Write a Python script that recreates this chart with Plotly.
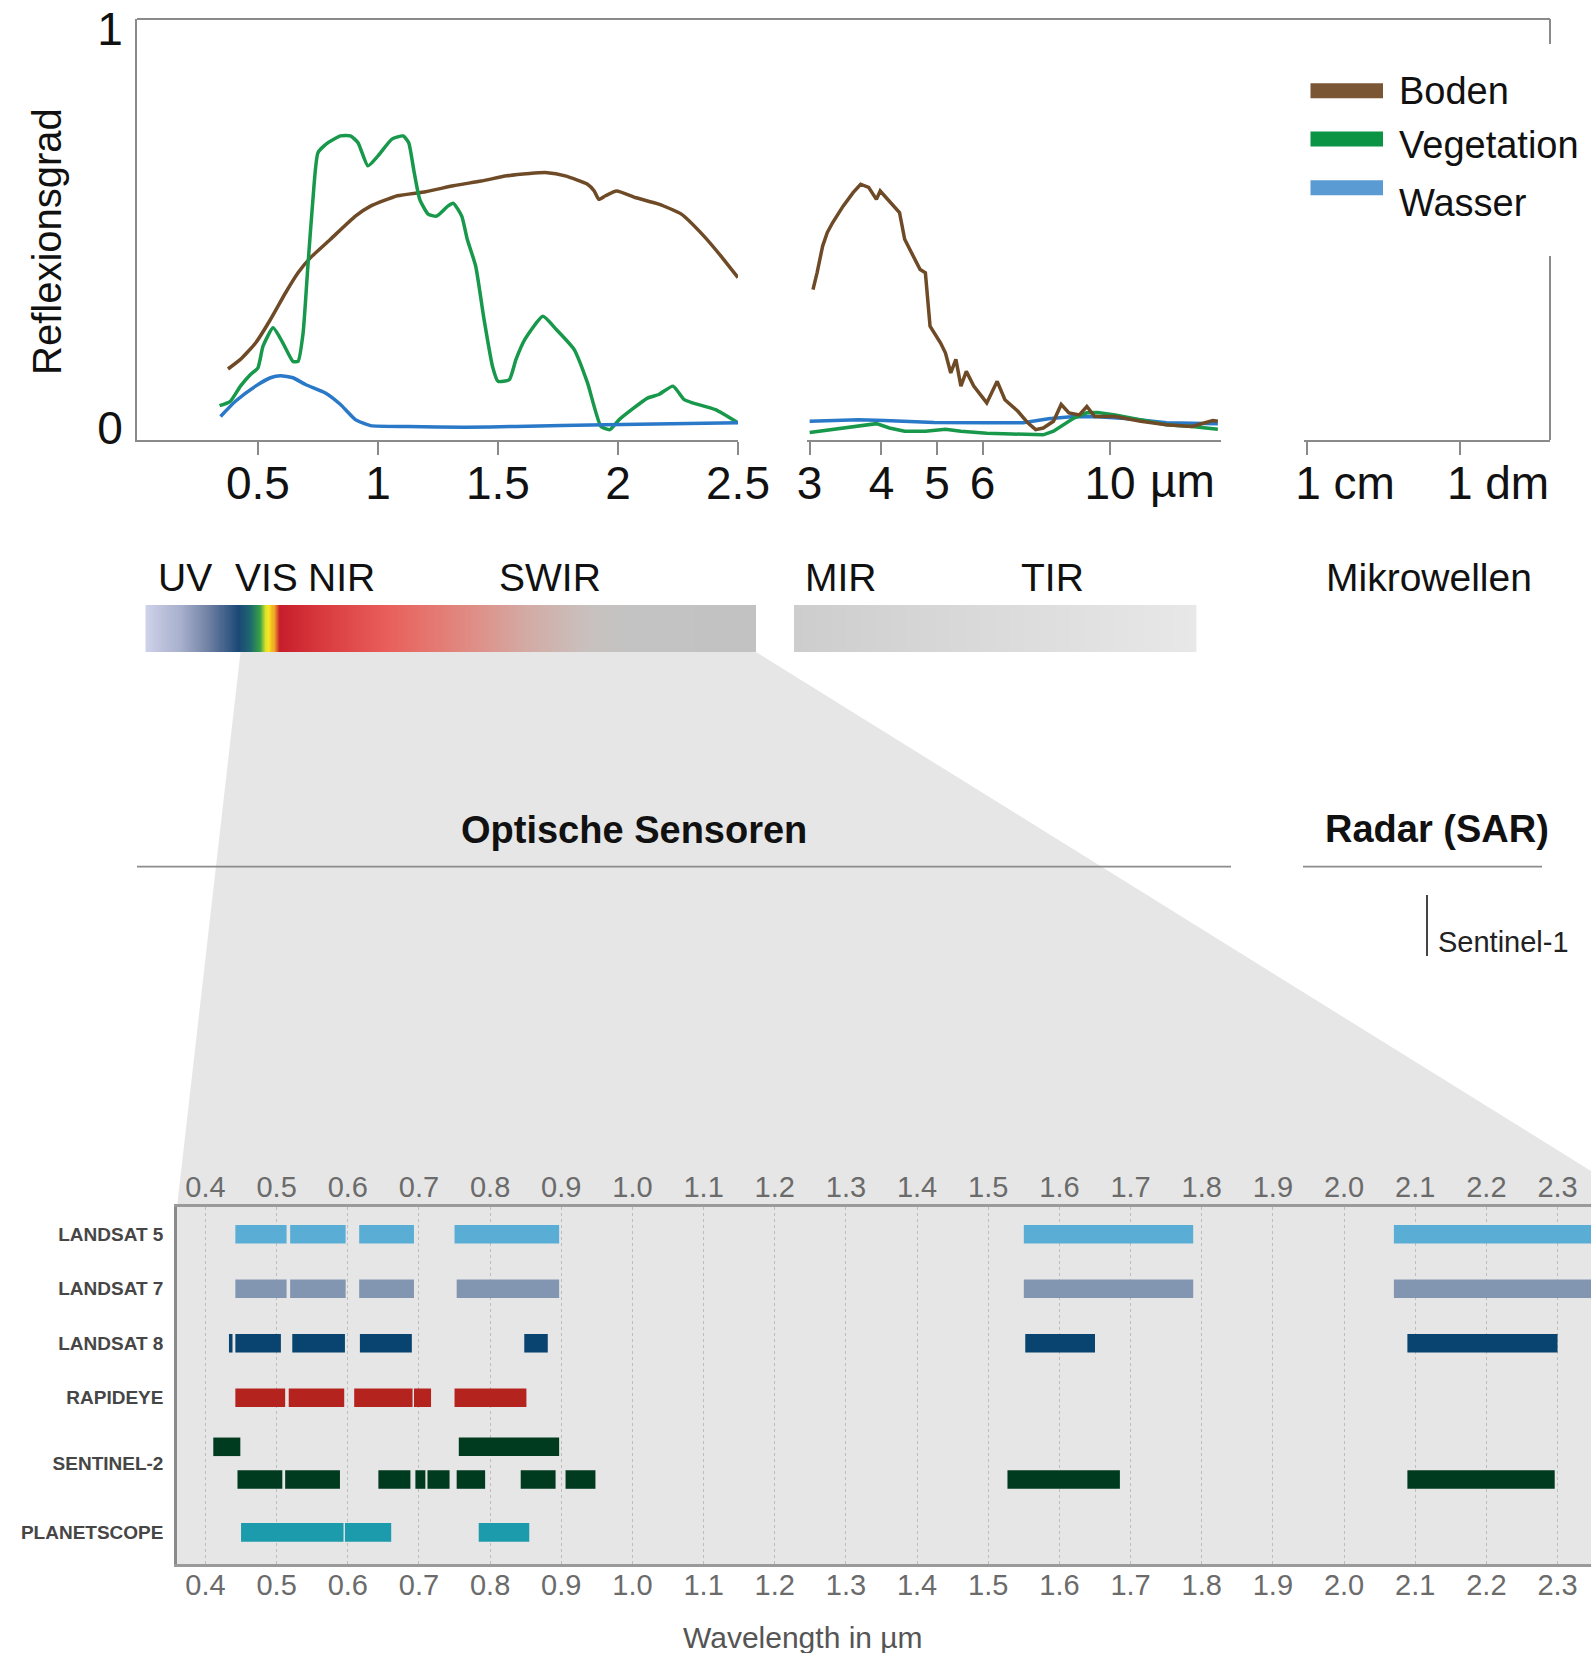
import numpy as np
import plotly.graph_objects as go

W, H = 1591, 1653
def px(x): return x / W
def py(y): return 1 - y / H

REG = "Liberation Sans, Arial, sans-serif"
NARROW = "Liberation Sans, Arial, sans-serif"

# ---------------- Reflectance curves (wavelength in µm, reflectance 0..1) ----------------
boden_vnir_x = [0.375,0.427,0.49,0.552,0.615,0.667,0.719,0.802,0.906,0.969,1.081,1.198,1.314,1.430,1.537,
                1.631,1.705,1.780,1.873,1.901,1.920,1.948,1.994,2.075,2.170,2.264,2.358,2.429,2.5]
boden_vnir_y = [0.148,0.172,0.213,0.272,0.339,0.389,0.427,0.473,0.531,0.556,0.582,0.592,0.607,0.619,0.632,
                0.638,0.640,0.632,0.611,0.594,0.573,0.582,0.594,0.577,0.561,0.536,0.481,0.431,0.377]

veg_vnir_x = [0.340,0.385,0.427,0.469,0.500,0.521,0.563,0.604,0.646,0.667,0.688,0.708,0.729,0.750,0.792,
              0.844,0.885,0.917,0.958,1.000,1.058,1.105,1.128,1.151,1.174,1.209,1.244,1.291,1.314,1.349,
              1.372,1.407,1.442,1.477,1.500,1.547,1.575,1.612,1.687,1.743,1.817,1.873,1.929,1.966,2.005,
              2.123,2.170,2.229,2.276,2.311,2.406,2.500]
veg_vnir_y = [0.056,0.067,0.105,0.134,0.151,0.205,0.251,0.213,0.167,0.167,0.238,0.406,0.573,0.690,0.715,
              0.732,0.732,0.715,0.657,0.682,0.724,0.732,0.715,0.640,0.573,0.536,0.531,0.556,0.563,0.531,
              0.473,0.406,0.272,0.155,0.117,0.121,0.172,0.222,0.280,0.247,0.197,0.113,0.004,-0.004,0.021,
              0.075,0.084,0.105,0.071,0.063,0.046,0.013]

wasser_vnir_x = [0.344,0.406,0.490,0.552,0.594,0.646,0.698,0.781,0.844,0.906,0.969,1.128,1.360,1.575,1.948,2.500]
wasser_vnir_y = [0.029,0.067,0.105,0.126,0.131,0.126,0.109,0.088,0.059,0.021,0.006,0.004,0.002,0.004,0.008,0.013]

boden_tir_x = [3.04,3.09,3.16,3.22,3.29,3.43,3.57,3.68,3.80,3.92,3.98,4.13,4.30,4.39,4.57,4.67,4.77,4.86,5.07,5.17,
               5.28,5.39,5.50,5.62,5.79,6.10,6.36,6.56,6.91,7.19,7.42,7.65,7.97,8.22,8.48,8.84,9.11,9.40,10.2,11.31,
               12.53,13.89,15.09,15.40]
boden_tir_y = [0.347,0.389,0.456,0.490,0.515,0.556,0.590,0.611,0.603,0.573,0.594,0.569,0.540,0.473,0.423,0.397,0.389,0.255,0.213,0.188,
               0.138,0.172,0.105,0.142,0.105,0.063,0.117,0.071,0.042,0.013,-0.004,0.000,0.017,0.059,0.038,0.033,0.054,0.029,0.029,0.017,
               0.008,0.004,0.019,0.017]

veg_tir_x = [3.0,3.29,3.65,3.92,4.13,4.39,4.77,5.17,5.50,6.10,6.75,7.65,7.97,8.30,8.65,9.11,9.51,10.2,11.31,12.53,13.89,15.4]
veg_tir_y = [-0.011,-0.004,0.006,0.011,0.0,-0.008,-0.008,-0.003,-0.008,-0.013,-0.015,-0.017,-0.008,0.008,0.025,0.038,0.039,0.033,0.021,0.008,0.004,-0.003]

wasser_tir_x = [3.0,3.65,4.05,4.94,6.10,7.06,7.81,8.65,9.51,10.8,12.53,13.89,15.4]
wasser_tir_y = [0.017,0.021,0.019,0.014,0.013,0.013,0.023,0.029,0.028,0.023,0.013,0.011,0.011]

series_names = ["Boden", "Vegetation", "Wasser"]
series_colors = ["#6e4a27", "#17984a", "#2a78c8"]
legend_colors = ["#7b5634", "#0b9444", "#5b9bd3"]

# axis ticks
seg1_ticks = [0.5, 1, 1.5, 2, 2.5]
seg1_ticktext = ["0.5", "1", "1.5", "2", "2.5"]
seg2_ticks = [3, 4, 5, 6, 10]
seg2_ticktext = ["3", "4", "5", "6", "10"]
seg3_ticks = [1e4, 1e5]
seg3_ticktext = ["1 cm", "1 dm"]

# ---------------- Spectrum bar colour stops ----------------
spec_stops = [0.0, 0.058, 0.104, 0.152, 0.171, 0.188, 0.197, 0.202, 0.210, 0.219, 0.292, 0.399, 0.525, 0.626, 0.726, 0.794, 1.0]
spec_colors = ["#d0d2ea", "#a7afcc", "#6f80a3", "#1b4876", "#1d6670", "#38a046", "#d8e030", "#f8e81e",
               "#f0a828", "#c71d2b", "#d93b3f", "#e9605b", "#e08a82", "#d3aba5", "#c8c1bf", "#c3c3c3", "#c2c2c2"]
spec2_stops = [0.0, 1.0]
spec2_colors = ["#cdcdcd", "#e8e8e8"]
spectrum_labels = ["UV", "VIS", "NIR", "SWIR", "MIR", "TIR", "Mikrowellen"]

# ---------------- Sensor bands (µm) ----------------
sensors = ["LANDSAT 5", "LANDSAT 7", "LANDSAT 8", "RAPIDEYE", "SENTINEL-2", "PLANETSCOPE"]
sensor_colors = ["#5aaed6", "#8295b1", "#08446f", "#b5231f", "#003a1f", "#1b9bab"]

landsat5_start = [0.442, 0.519, 0.616, 0.750, 1.550, 2.070]
landsat5_end   = [0.514, 0.597, 0.693, 0.897, 1.788, 2.350]
landsat7_start = [0.442, 0.519, 0.616, 0.753, 1.550, 2.070]
landsat7_end   = [0.514, 0.597, 0.693, 0.897, 1.788, 2.350]
landsat8_start = [0.433, 0.442, 0.522, 0.617, 0.848, 1.552, 2.089]
landsat8_end   = [0.438, 0.506, 0.596, 0.690, 0.881, 1.650, 2.300]
rapideye_start = [0.442, 0.517, 0.609, 0.693, 0.750]
rapideye_end   = [0.512, 0.595, 0.691, 0.717, 0.851]
sentinel2a_start = [0.411, 0.756]
sentinel2a_end   = [0.449, 0.897]
sentinel2b_start = [0.445, 0.512, 0.643, 0.695, 0.712, 0.753, 0.843, 0.906, 1.527, 2.089]
sentinel2b_end   = [0.508, 0.589, 0.688, 0.709, 0.743, 0.793, 0.892, 0.948, 1.685, 2.296]
planetscope_start = [0.450, 0.596, 0.784]
planetscope_end   = [0.594, 0.661, 0.855]

wl_ticks = [0.4, 0.5, 0.6, 0.7, 0.8, 0.9, 1.0, 1.1, 1.2, 1.3, 1.4, 1.5, 1.6, 1.7, 1.8, 1.9, 2.0, 2.1, 2.2, 2.3]
wl_ticktext = ["%.1f" % v for v in wl_ticks]

# ---------------- Build figure ----------------
fig = go.Figure()
LW = 3.5
for xs, ys, col in [(boden_vnir_x, boden_vnir_y, series_colors[0]),
                    (veg_vnir_x, veg_vnir_y, series_colors[1]),
                    (wasser_vnir_x, wasser_vnir_y, series_colors[2])]:
    fig.add_trace(go.Scatter(x=xs, y=ys, mode="lines", xaxis="x", yaxis="y",
                             line=dict(color=col, width=LW, shape="spline", smoothing=0.5),
                             showlegend=False, hoverinfo="skip"))
for xs, ys, col in [(wasser_tir_x, wasser_tir_y, series_colors[2]),
                    (veg_tir_x, veg_tir_y, series_colors[1]),
                    (boden_tir_x, boden_tir_y, series_colors[0])]:
    fig.add_trace(go.Scatter(x=xs, y=ys, mode="lines", xaxis="x2", yaxis="y",
                             line=dict(color=col, width=LW), showlegend=False, hoverinfo="skip"))
fig.add_trace(go.Scatter(x=[None], y=[None], xaxis="x3", yaxis="y", showlegend=False, hoverinfo="skip"))

# spectrum bars (heatmaps)
N = 600
ramp = np.linspace(0, 1, N)
fig.add_trace(go.Heatmap(z=[ramp], x=ramp, y=[0], xaxis="x4", yaxis="y4", showscale=False, hoverinfo="skip",
                         colorscale=[[s, c] for s, c in zip(spec_stops, spec_colors)], zmin=0, zmax=1))
fig.add_trace(go.Heatmap(z=[ramp], x=ramp, y=[0], xaxis="x7", yaxis="y7", showscale=False, hoverinfo="skip",
                         colorscale=[[s, c] for s, c in zip(spec2_stops, spec2_colors)], zmin=0, zmax=1))

# sensor bars
row_pos = [0, 1, 2, 3, 4.2, 5.47]
s2_offset = 0.3
band_sets = [
    (landsat5_start, landsat5_end, 0, 0.0),
    (landsat7_start, landsat7_end, 1, 0.0),
    (landsat8_start, landsat8_end, 2, 0.0),
    (rapideye_start, rapideye_end, 3, 0.0),
    (sentinel2a_start, sentinel2a_end, 4, -s2_offset),
    (sentinel2b_start, sentinel2b_end, 4, s2_offset),
    (planetscope_start, planetscope_end, 5, 0.0),
]
for st, en, idx, off in band_sets:
    st = np.array(st); en = np.array(en)
    fig.add_trace(go.Bar(base=st, x=en - st, y=[row_pos[idx] + off] * len(st), orientation="h",
                         width=0.34, marker=dict(color=sensor_colors[idx], line=dict(width=0)),
                         xaxis="x5", yaxis="y5", showlegend=False, hoverinfo="skip"))
fig.add_trace(go.Scatter(x=[None], y=[None], xaxis="x6", yaxis="y5", showlegend=False, hoverinfo="skip"))

axis_gray = "#8a8a8a"
tick_font = dict(family=REG, size=46, color="#111111")
bot_tick_font = dict(family=NARROW, size=29, color="#6b6b6b")

layout = dict(
    width=W, height=H, margin=dict(l=0, r=0, t=0, b=0, autoexpand=False),
    paper_bgcolor="white", plot_bgcolor="rgba(0,0,0,0)", showlegend=False, barmode="overlay",
    xaxis=dict(domain=[px(137), px(738)], anchor="y", range=[-0.004, 2.5], tickvals=seg1_ticks, ticktext=seg1_ticktext,
               ticks="outside", ticklen=13, tickwidth=2, tickcolor=axis_gray, showline=True, linecolor=axis_gray,
               linewidth=2, showgrid=False, zeroline=False, tickfont=tick_font, ticklabelstandoff=-11, automargin=False),
    xaxis2=dict(domain=[px(806.5), px(1221)], anchor="y", type="log", range=[0.4716, 1.193], tickvals=seg2_ticks,
                ticktext=seg2_ticktext, ticks="outside", ticklen=13, tickwidth=2, tickcolor=axis_gray, showline=True,
                linecolor=axis_gray, linewidth=2, showgrid=False, zeroline=False, tickfont=tick_font,
                ticklabelstandoff=-11, automargin=False),
    xaxis3=dict(domain=[px(1304), px(1550)], anchor="y", type="log", range=[3.98, 5.588], tickvals=seg3_ticks,
                ticktext=seg3_ticktext, ticks="outside", ticklen=13, tickwidth=2, tickcolor=axis_gray, showline=True,
                linecolor=axis_gray, linewidth=2, showgrid=False, zeroline=False, tickfont=tick_font,
                ticklabelshift=38, ticklabelstandoff=-11, automargin=False),
    yaxis=dict(domain=[py(440), py(19)], anchor="x", range=[-0.03, 1.025], tickvals=[0, 1], ticktext=["0", "1"],
               ticks="", showline=True, linecolor=axis_gray, linewidth=2, showgrid=False, zeroline=False,
               tickfont=tick_font, ticklabelstandoff=3, automargin=False),
    xaxis4=dict(domain=[px(145.5), px(756)], anchor="y4", range=[0, 1], visible=False, automargin=False),
    yaxis4=dict(domain=[py(652), py(605)], anchor="x4", range=[-0.5, 0.5], visible=False, automargin=False),
    xaxis7=dict(domain=[px(794), px(1196.6)], anchor="y7", range=[0, 1], visible=False, automargin=False),
    yaxis7=dict(domain=[py(652), py(605)], anchor="x7", range=[-0.5, 0.5], visible=False, automargin=False),
    xaxis5=dict(domain=[px(177), 1.0], anchor="y5", range=[0.36, 2.347], tickvals=wl_ticks, ticktext=wl_ticktext,
                ticks="", showline=True, mirror=True, linecolor="#9a9a9a", linewidth=2.5, showgrid=True,
                gridcolor="#bdbdbd", griddash="dot", gridwidth=1, zeroline=False,
                tickfont=bot_tick_font, ticklabelstandoff=-7, automargin=False),
    xaxis6=dict(overlaying="x5", anchor="y5", side="top", range=[0.36, 2.347], tickvals=wl_ticks, ticktext=wl_ticktext,
                ticks="", showline=False, showgrid=False, zeroline=False,
                tickfont=bot_tick_font, ticklabelstandoff=3, automargin=False),
    yaxis5=dict(domain=[py(1564), py(1207)], anchor="x5", range=[6.05, -0.5], tickvals=row_pos, ticktext=sensors,
                ticks="", showline=True, linecolor="#8a8a8a", linewidth=2.5, showgrid=False, zeroline=False,
                tickfont=dict(family=NARROW, size=19, color="#464646", weight="bold"), ticklabelstandoff=7,
                automargin=False),
)
fig.update_layout(**layout)

shapes = []
# gray projection trapezoid
trap = [(240.5, 652), (756, 652), (1591, 1171), (1591, 1207), (177, 1207)]
path = "M " + " L ".join("%f,%f" % (px(a), py(b)) for a, b in trap) + " Z"
shapes.append(dict(type="path", path=path, xref="paper", yref="paper", fillcolor="#e6e6e6",
                   line=dict(width=0), layer="below"))
shapes.append(dict(type="rect", xref="x5 domain", yref="y5 domain", x0=0, x1=1, y0=0, y1=1,
                   fillcolor="#e6e6e6", line=dict(width=0), layer="below"))
def hline(x0, x1, y, color=axis_gray, w=2):
    shapes.append(dict(type="line", xref="paper", yref="paper", x0=px(x0), x1=px(x1), y0=py(y), y1=py(y),
                       line=dict(color=color, width=w)))
def vline(x, y0, y1, color=axis_gray, w=2):
    shapes.append(dict(type="line", xref="paper", yref="paper", x0=px(x), x1=px(x), y0=py(y0), y1=py(y1),
                       line=dict(color=color, width=w)))
hline(137, 1550, 19)
vline(1550, 19, 44)
vline(1550, 256, 440)
hline(137, 1231, 866.6, "#8c8c8c", 1.6)
hline(1303, 1542, 866.6, "#8c8c8c", 1.6)
vline(1427, 895, 956, "#444444", 2)
for yc, col in zip([90.7, 139, 187.7], legend_colors):
    shapes.append(dict(type="rect", xref="paper", yref="paper", x0=px(1310.5), x1=px(1383),
                       y0=py(yc + 7.5), y1=py(yc - 7.5), fillcolor=col, line=dict(width=0)))
fig.update_layout(shapes=shapes)

ann = []
def text(t, x, y, size, family=REG, color="#111111", xanchor="center", weight="normal", angle=0):
    ann.append(dict(text=t, x=px(x), y=py(y), xref="paper", yref="paper", showarrow=False, xanchor=xanchor,
                    yanchor="middle", textangle=angle,
                    font=dict(family=family, size=size, color=color, weight=weight)))
text("Reflexionsgrad", 47, 242, 40, angle=-90)
for name, yc in zip(series_names, [90.7, 145.5, 203.5]):
    text(name, 1397, yc, 38, xanchor="left")
text("µm", 1182, 481, 46)
for lab, xc in zip(spectrum_labels, [184.5, 266, 341, 550, 841, 1052, 1429]):
    text(lab, xc, 577.7, 39, family=NARROW)
text("Optische Sensoren", 633.6, 830, 38, family=NARROW, weight="bold")
text("Radar (SAR)", 1437, 829, 38, family=NARROW, weight="bold")
text("Sentinel-1", 1436, 942, 29, family=NARROW, xanchor="left", color="#222222")
text("Wavelength in µm", 803, 1637, 30, family=NARROW, color="#555555")
fig.update_layout(annotations=ann)

fig.write_html("out.html", config={"displayModeBar": False},
               post_script="document.body.style.margin='0px';document.body.style.overflow='hidden';")
